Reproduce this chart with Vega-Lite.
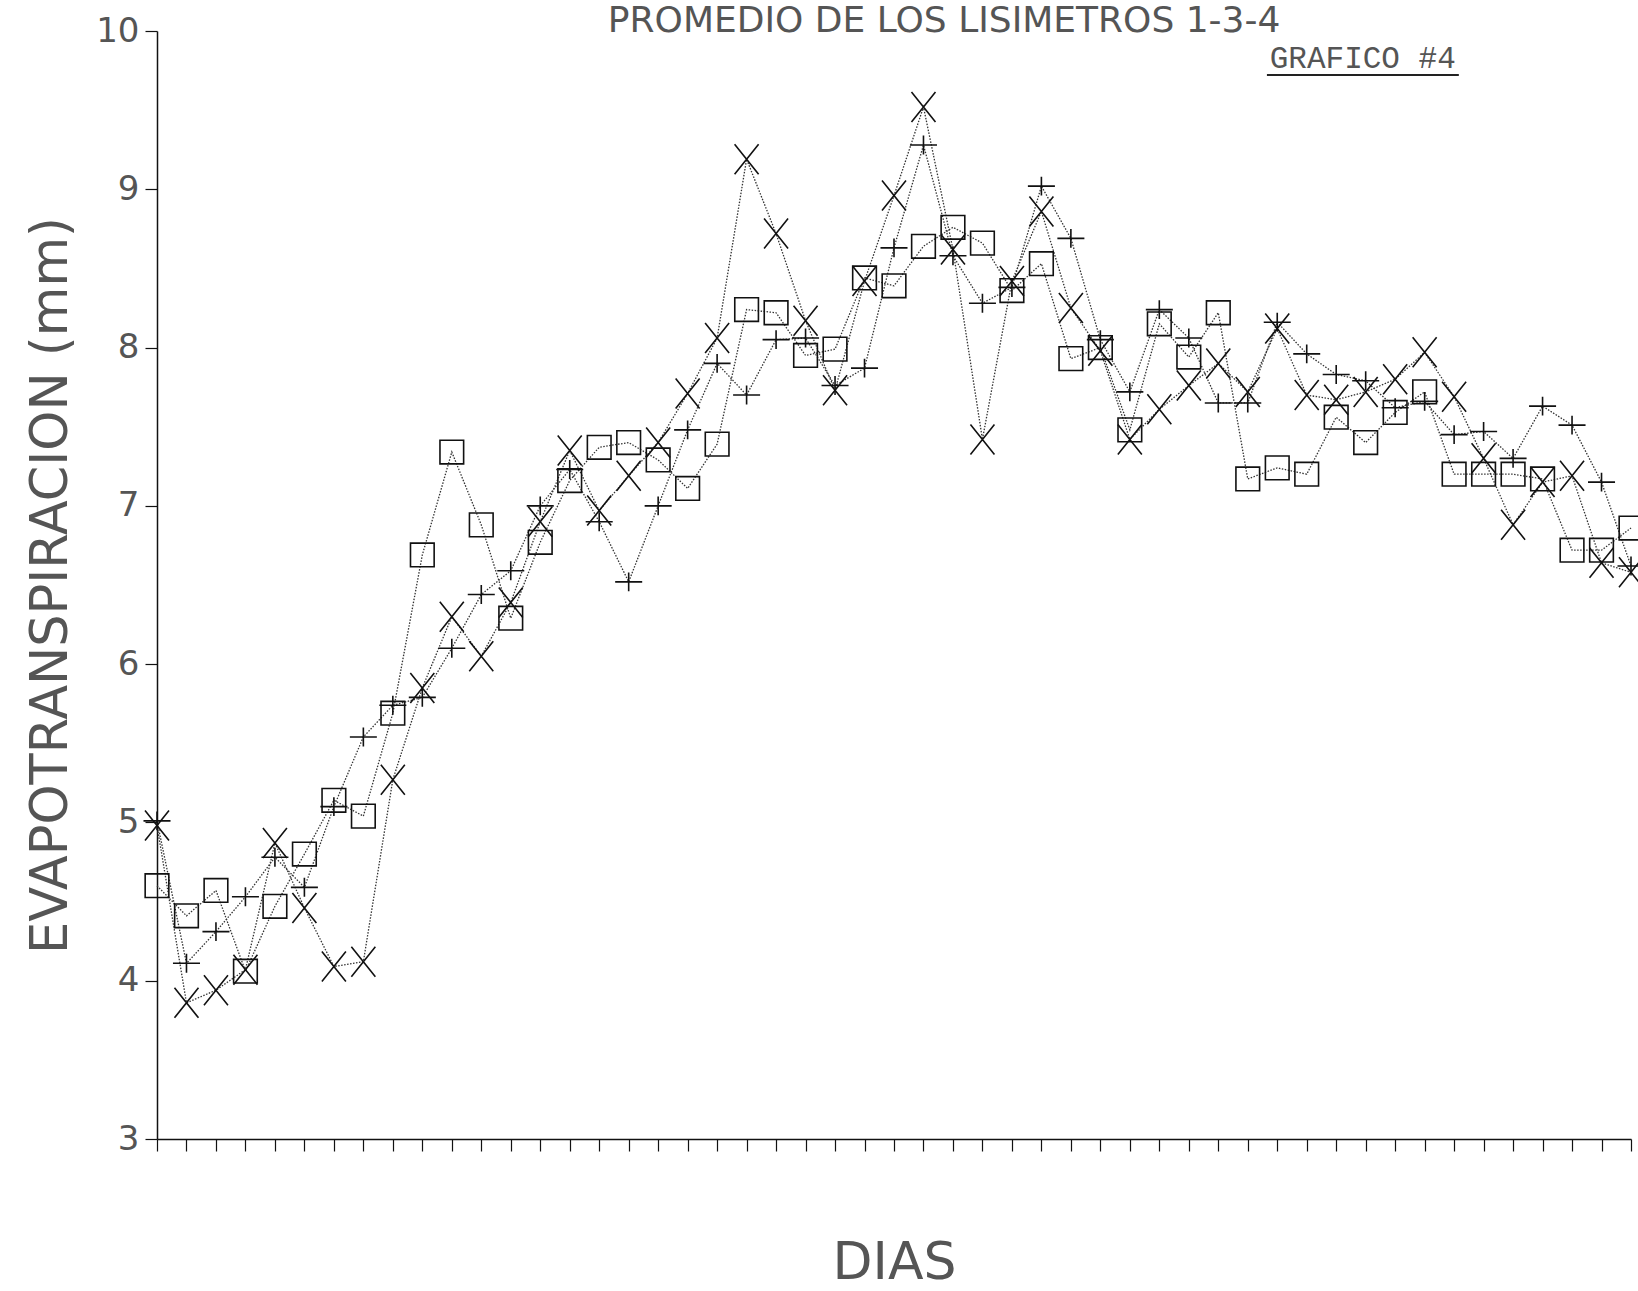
{
  "$schema": "https://vega.github.io/schema/vega-lite/v6.json",
  "autosize": {"type": "none"},
  "width": 1474,
  "height": 1108,
  "padding": {"left": 157, "top": 31, "right": 7, "bottom": 152},
  "background": "white",
  "config": {
    "view": {"stroke": null},
    "axis": {"grid": false, "domainColor": "#111", "tickColor": "#111", "domainWidth": 1.5, "tickWidth": 1.2}
  },
  "encoding": {
    "x": {
      "field": "d", "type": "quantitative",
      "scale": {"domain": [0, 50], "nice": false, "zero": false},
      "axis": {
        "values": [0,1,2,3,4,5,6,7,8,9,10,11,12,13,14,15,16,17,18,19,20,21,22,23,24,25,26,27,28,29,30,31,32,33,34,35,36,37,38,39,40,41,42,43,44,45,46,47,48,49,50],
        "labels": false, "tickSize": 12,
        "title": "DIAS", "titleFont": "DejaVu Sans", "titleFontSize": 52, "titleFontWeight": "normal",
        "titleColor": "#555", "titlePadding": 86
      }
    },
    "y": {
      "field": "v", "type": "quantitative",
      "scale": {"domain": [3, 10], "nice": false, "zero": false},
      "axis": {
        "values": [3,4,5,6,7,8,9,10], "tickSize": 12, "labelPadding": 6,
        "labelFont": "DejaVu Sans", "labelFontSize": 34, "labelColor": "#555",
        "title": "EVAPOTRANSPIRACION (mm)", "titleFont": "DejaVu Sans", "titleFontSize": 51,
        "titleFontWeight": "normal", "titleColor": "#555", "titlePadding": 18
      }
    }
  },
  "layer": [
    {
      "data": {"name": "series", "values": [
      {"d":0,"s":"cuadro","v":4.60},{"d":1,"s":"cuadro","v":4.41},{"d":2,"s":"cuadro","v":4.57},{"d":3,"s":"cuadro","v":4.06},{"d":4,"s":"cuadro","v":4.47},{"d":5,"s":"cuadro","v":4.80},{"d":6,"s":"cuadro","v":5.14},{"d":7,"s":"cuadro","v":5.04},{"d":8,"s":"cuadro","v":5.69},{"d":9,"s":"cuadro","v":6.69},{"d":10,"s":"cuadro","v":7.34},{"d":11,"s":"cuadro","v":6.88},{"d":12,"s":"cuadro","v":6.29},{"d":13,"s":"cuadro","v":6.77},{"d":14,"s":"cuadro","v":7.16},{"d":15,"s":"cuadro","v":7.37},{"d":16,"s":"cuadro","v":7.40},{"d":17,"s":"cuadro","v":7.29},{"d":18,"s":"cuadro","v":7.11},{"d":19,"s":"cuadro","v":7.39},{"d":20,"s":"cuadro","v":8.24},{"d":21,"s":"cuadro","v":8.22},{"d":22,"s":"cuadro","v":7.95},{"d":23,"s":"cuadro","v":7.99},{"d":24,"s":"cuadro","v":8.44},{"d":25,"s":"cuadro","v":8.39},{"d":26,"s":"cuadro","v":8.64},{"d":27,"s":"cuadro","v":8.76},{"d":28,"s":"cuadro","v":8.66},{"d":29,"s":"cuadro","v":8.36},{"d":30,"s":"cuadro","v":8.53},{"d":31,"s":"cuadro","v":7.93},{"d":32,"s":"cuadro","v":8.00},{"d":33,"s":"cuadro","v":7.48},{"d":34,"s":"cuadro","v":8.15},{"d":35,"s":"cuadro","v":7.94},{"d":36,"s":"cuadro","v":8.22},{"d":37,"s":"cuadro","v":7.17},{"d":38,"s":"cuadro","v":7.24},{"d":39,"s":"cuadro","v":7.20},{"d":40,"s":"cuadro","v":7.56},{"d":41,"s":"cuadro","v":7.40},{"d":42,"s":"cuadro","v":7.59},{"d":43,"s":"cuadro","v":7.72},{"d":44,"s":"cuadro","v":7.20},{"d":45,"s":"cuadro","v":7.20},{"d":46,"s":"cuadro","v":7.20},{"d":47,"s":"cuadro","v":7.17},{"d":48,"s":"cuadro","v":6.72},{"d":49,"s":"cuadro","v":6.72},{"d":50,"s":"cuadro","v":6.86},
      {"d":0,"s":"mas","v":5.01},{"d":1,"s":"mas","v":4.11},{"d":2,"s":"mas","v":4.31},{"d":3,"s":"mas","v":4.53},{"d":4,"s":"mas","v":4.78},{"d":5,"s":"mas","v":4.59},{"d":6,"s":"mas","v":5.10},{"d":7,"s":"mas","v":5.54},{"d":8,"s":"mas","v":5.74},{"d":9,"s":"mas","v":5.79},{"d":10,"s":"mas","v":6.10},{"d":11,"s":"mas","v":6.44},{"d":12,"s":"mas","v":6.59},{"d":13,"s":"mas","v":7.00},{"d":14,"s":"mas","v":7.23},{"d":15,"s":"mas","v":6.90},{"d":16,"s":"mas","v":6.52},{"d":17,"s":"mas","v":7.00},{"d":18,"s":"mas","v":7.48},{"d":19,"s":"mas","v":7.90},{"d":20,"s":"mas","v":7.70},{"d":21,"s":"mas","v":8.05},{"d":22,"s":"mas","v":8.06},{"d":23,"s":"mas","v":7.76},{"d":24,"s":"mas","v":7.87},{"d":25,"s":"mas","v":8.63},{"d":26,"s":"mas","v":9.28},{"d":27,"s":"mas","v":8.58},{"d":28,"s":"mas","v":8.28},{"d":29,"s":"mas","v":8.38},{"d":30,"s":"mas","v":9.02},{"d":31,"s":"mas","v":8.69},{"d":32,"s":"mas","v":8.05},{"d":33,"s":"mas","v":7.72},{"d":34,"s":"mas","v":8.24},{"d":35,"s":"mas","v":8.06},{"d":36,"s":"mas","v":7.65},{"d":37,"s":"mas","v":7.65},{"d":38,"s":"mas","v":8.16},{"d":39,"s":"mas","v":7.96},{"d":40,"s":"mas","v":7.83},{"d":41,"s":"mas","v":7.79},{"d":42,"s":"mas","v":7.62},{"d":43,"s":"mas","v":7.66},{"d":44,"s":"mas","v":7.45},{"d":45,"s":"mas","v":7.47},{"d":46,"s":"mas","v":7.30},{"d":47,"s":"mas","v":7.63},{"d":48,"s":"mas","v":7.51},{"d":49,"s":"mas","v":7.15},{"d":50,"s":"mas","v":6.62},
      {"d":0,"s":"equis","v":4.98},{"d":1,"s":"equis","v":3.86},{"d":2,"s":"equis","v":3.94},{"d":3,"s":"equis","v":4.07},{"d":4,"s":"equis","v":4.87},{"d":5,"s":"equis","v":4.46},{"d":6,"s":"equis","v":4.09},{"d":7,"s":"equis","v":4.12},{"d":8,"s":"equis","v":5.27},{"d":9,"s":"equis","v":5.85},{"d":10,"s":"equis","v":6.30},{"d":11,"s":"equis","v":6.05},{"d":12,"s":"equis","v":6.39},{"d":13,"s":"equis","v":6.90},{"d":14,"s":"equis","v":7.35},{"d":15,"s":"equis","v":6.97},{"d":16,"s":"equis","v":7.19},{"d":17,"s":"equis","v":7.40},{"d":18,"s":"equis","v":7.71},{"d":19,"s":"equis","v":8.06},{"d":20,"s":"equis","v":9.19},{"d":21,"s":"equis","v":8.72},{"d":22,"s":"equis","v":8.17},{"d":23,"s":"equis","v":7.73},{"d":24,"s":"equis","v":8.42},{"d":25,"s":"equis","v":8.96},{"d":26,"s":"equis","v":9.52},{"d":27,"s":"equis","v":8.62},{"d":28,"s":"equis","v":7.42},{"d":29,"s":"equis","v":8.42},{"d":30,"s":"equis","v":8.86},{"d":31,"s":"equis","v":8.25},{"d":32,"s":"equis","v":7.98},{"d":33,"s":"equis","v":7.42},{"d":34,"s":"equis","v":7.61},{"d":35,"s":"equis","v":7.76},{"d":36,"s":"equis","v":7.90},{"d":37,"s":"equis","v":7.72},{"d":38,"s":"equis","v":8.12},{"d":39,"s":"equis","v":7.70},{"d":40,"s":"equis","v":7.67},{"d":41,"s":"equis","v":7.72},{"d":42,"s":"equis","v":7.80},{"d":43,"s":"equis","v":7.97},{"d":44,"s":"equis","v":7.69},{"d":45,"s":"equis","v":7.30},{"d":46,"s":"equis","v":6.88},{"d":47,"s":"equis","v":7.15},{"d":48,"s":"equis","v":7.19},{"d":49,"s":"equis","v":6.64},{"d":50,"s":"equis","v":6.58}
      ]},
      "mark": {"type": "line", "color": "#333", "strokeWidth": 1.3, "strokeDash": [1.5, 1.5]},
      "encoding": {"detail": {"field": "s"}}
    },
    {
      "data": {"name": "series"},
      "mark": {"type": "point", "filled": false, "color": "#111", "strokeWidth": 1.6, "opacity": 1},
      "encoding": {
        "shape": {
          "field": "s", "type": "nominal", "legend": null,
          "scale": {"domain": ["cuadro", "mas", "equis"], "range": ["square", "M-1,0H1M0,-0.7V0.7", "M-0.8,-1L0.8,1M-0.8,1L0.8,-1"]}
        },
        "size": {
          "field": "s", "type": "nominal", "legend": null,
          "scale": {"domain": ["cuadro", "mas", "equis"], "range": [560, 900, 700]}
        }
      }
    },
    {
      "data": {"values": [{"t": "PROMEDIO DE LOS LISIMETROS 1-3-4", "tx": 26.7, "ty": 9.995}]},
      "mark": {"type": "text", "font": "DejaVu Sans", "fontSize": 36, "color": "#555", "align": "center", "baseline": "alphabetic"},
      "encoding": {
        "x": {"field": "tx", "type": "quantitative"},
        "y": {"field": "ty", "type": "quantitative"},
        "text": {"field": "t", "type": "nominal"}
      }
    },
    {
      "data": {"values": [{"t": "GRAFICO #4", "tx": 40.9, "ty": 9.765}]},
      "mark": {"type": "text", "font": "Liberation Mono", "fontSize": 31, "color": "#555", "align": "center", "baseline": "alphabetic"},
      "encoding": {
        "x": {"field": "tx", "type": "quantitative"},
        "y": {"field": "ty", "type": "quantitative"},
        "text": {"field": "t", "type": "nominal"}
      }
    },
    {
      "data": {"values": [{"a": 37.65, "b": 44.16, "y": 9.722}]},
      "mark": {"type": "rule", "color": "#222", "strokeWidth": 2},
      "encoding": {
        "x": {"field": "a", "type": "quantitative"},
        "x2": {"field": "b"},
        "y": {"field": "y", "type": "quantitative"}
      }
    }
  ]
}
